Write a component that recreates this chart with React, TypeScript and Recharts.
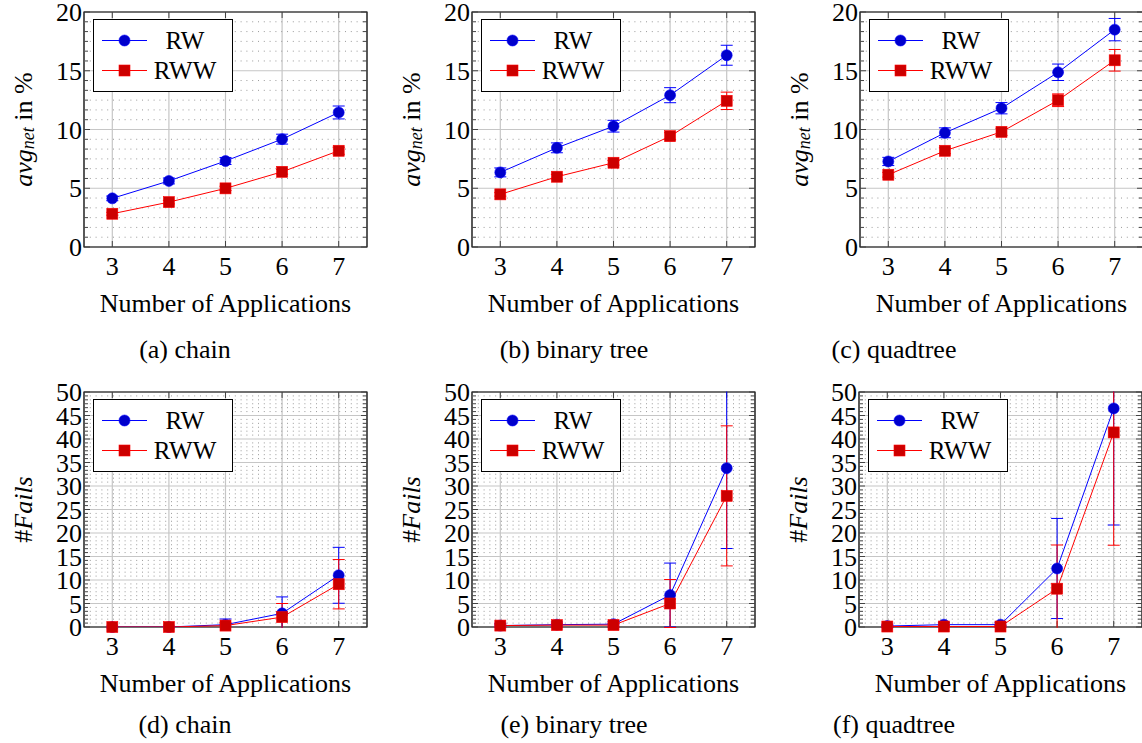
import React from 'react';
import {
  LineChart,
  Line,
  XAxis,
  YAxis,
  CartesianGrid,
  ReferenceLine,
  ReferenceArea,
  ErrorBar,
  Legend,
} from 'recharts';

// ---------- data ----------
const categories = [3, 4, 5, 6, 7];
const xTicks = [3, 4, 5, 6, 7];
const netTicks = [0, 5, 10, 15, 20];
const failTicks = [0, 5, 10, 15, 20, 25, 30, 35, 40, 45, 50];
const seriesNames = ['RW', 'RWW'];
const captions = ['(a) chain', '(b) binary tree', '(c) quadtree', '(d) chain', '(e) binary tree', '(f) quadtree'];

// (a) chain - avg_net
const chainNetRW = [4.14, 5.62, 7.32, 9.18, 11.45];
const chainNetRWErr = [0.2, 0.25, 0.3, 0.42, 0.55];
const chainNetRWW = [2.83, 3.82, 4.99, 6.4, 8.19];
const chainNetRWWErr = [0.12, 0.15, 0.18, 0.2, 0.3];
// (b) binary tree - avg_net
const binNetRW = [6.35, 8.44, 10.28, 12.92, 16.32];
const binNetRWErr = [0.38, 0.42, 0.5, 0.64, 0.85];
const binNetRWW = [4.48, 5.98, 7.17, 9.43, 12.44];
const binNetRWWErr = [0.15, 0.2, 0.2, 0.3, 0.74];
// (c) quadtree - avg_net
const quadNetRW = [7.28, 9.72, 11.81, 14.87, 18.5];
const quadNetRWErr = [0.35, 0.42, 0.48, 0.7, 0.95];
const quadNetRWW = [6.15, 8.19, 9.8, 12.49, 15.89];
const quadNetRWWErr = [0.2, 0.25, 0.3, 0.54, 0.92];
// (d) chain - #Fails
const chainFailRW = [0, 0, 0.5, 2.9, 11.0];
const chainFailRWErr = [0, 0, 1.2, 3.5, 5.95];
const chainFailRWW = [0, 0, 0.3, 2.1, 9.1];
const chainFailRWWErr = [0, 0, 0.6, 2.9, 5.25];
// (e) binary tree - #Fails
const binFailRW = [0.3, 0.5, 0.6, 6.8, 33.8];
const binFailRWErr = [0.5, 0.6, 0.6, 6.8, 17.1];
const binFailRWW = [0.3, 0.4, 0.4, 5.0, 27.9];
const binFailRWWErr = [0.3, 0.4, 0.4, 5.1, 14.9];
// (f) quadtree - #Fails
const quadFailRW = [0.2, 0.5, 0.5, 12.45, 46.5];
const quadFailRWErr = [0.4, 0.5, 0.5, 10.65, 24.8];
const quadFailRWW = [0.1, 0.1, 0.1, 8.15, 41.4];
const quadFailRWWErr = [0.2, 0.2, 0.2, 9.3, 24.0];

// ---------- styling constants ----------
const FONT = "'Liberation Serif', 'DejaVu Serif', serif";
const BLUE = '#0000ff';
const BLUE_FILL = '#0000cc';
const RED = '#ff0000';
const RED_FILL = '#cc0000';
const PLOT_W = 283;
const PLOT_H = 235;
const AXIS_W = 84;
const TOP_M = 12;
const RIGHT_M = 4;
const XAXIS_H = 70;
const CHART_W = AXIS_W + PLOT_W + RIGHT_M;
const CHART_H = TOP_M + PLOT_H + XAXIS_H;
const X_MIN = 2.5;
const X_MAX = 7.5;

const buildRows = (rw: number[], rwErr: number[], rww: number[], rwwErr: number[]) =>
  categories.map((x, i) => ({ x, rw: rw[i], rwErr: rwErr[i], rww: rww[i], rwwErr: rwwErr[i] }));

const minorValues = (majors: number[]) => {
  const out: number[] = [];
  for (let i = 0; i < majors.length - 1; i++) {
    const step = (majors[i + 1] - majors[i]) / 6;
    for (let k = 1; k <= 5; k++) out.push(majors[i] + k * step);
  }
  return out;
};

type PanelSpec = {
  left: number;
  top: number;
  kind: 'net' | 'fail';
  caption: string;
  captionX: number;
  captionY: number;
  rows: ReturnType<typeof buildRows>;
};

const panels: PanelSpec[] = [
  { left: 0, top: 0, kind: 'net', caption: captions[0], captionX: 185, captionY: 350, rows: buildRows(chainNetRW, chainNetRWErr, chainNetRWW, chainNetRWWErr) },
  { left: 388, top: 0, kind: 'net', caption: captions[1], captionX: 574, captionY: 350, rows: buildRows(binNetRW, binNetRWErr, binNetRWW, binNetRWWErr) },
  { left: 776, top: 0, kind: 'net', caption: captions[2], captionX: 894, captionY: 350, rows: buildRows(quadNetRW, quadNetRWErr, quadNetRWW, quadNetRWWErr) },
  { left: 0, top: 380, kind: 'fail', caption: captions[3], captionX: 185, captionY: 725, rows: buildRows(chainFailRW, chainFailRWErr, chainFailRWW, chainFailRWWErr) },
  { left: 388, top: 380, kind: 'fail', caption: captions[4], captionX: 574, captionY: 725, rows: buildRows(binFailRW, binFailRWErr, binFailRWW, binFailRWWErr) },
  { left: 775, top: 380, kind: 'fail', caption: captions[5], captionX: 894, captionY: 725, rows: buildRows(quadFailRW, quadFailRWErr, quadFailRWW, quadFailRWWErr) },
];

// ---------- small render helpers ----------
const circleDot = (p: any) => {
  if (p.cx == null || p.cy == null) return <g key={`c-${p.index}`} />;
  return <circle key={`c-${p.index}`} cx={p.cx} cy={p.cy} r={5.5} fill={BLUE_FILL} stroke={BLUE} strokeWidth={0.6} />;
};
const squareDot = (p: any) => {
  if (p.cx == null || p.cy == null) return <g key={`s-${p.index}`} />;
  return <rect key={`s-${p.index}`} x={p.cx - 5.5} y={p.cy - 5.5} width={11} height={11} fill={RED_FILL} stroke={RED} strokeWidth={0.6} />;
};

const LegendBox = () => (
  <svg width={141} height={74} style={{ display: 'block', overflow: 'visible' }}>
    <rect x={0.5} y={0.5} width={139} height={72} fill="#fff" stroke="#000" strokeWidth={1} />
    <line x1={9} y1={21.5} x2={54} y2={21.5} stroke={BLUE} strokeWidth={1} />
    <circle cx={31.5} cy={21.5} r={5.5} fill={BLUE_FILL} stroke={BLUE} strokeWidth={0.6} />
    <text x={92} y={30} textAnchor="middle" fontSize={25} fontFamily={FONT} fill="#000">{seriesNames[0]}</text>
    <line x1={9} y1={51.5} x2={54} y2={51.5} stroke={RED} strokeWidth={1} />
    <rect x={26} y={46} width={11} height={11} fill={RED_FILL} stroke={RED} strokeWidth={0.6} />
    <text x={92} y={60} textAnchor="middle" fontSize={25} fontFamily={FONT} fill="#000">{seriesNames[1]}</text>
  </svg>
);

const YLabel = (props: any) => {
  const vb = props.viewBox || { x: 0, y: TOP_M, width: AXIS_W, height: PLOT_H };
  const cx = vb.x + 23;
  const cy = vb.y + vb.height / 2;
  if (props.kind === 'net') {
    return (
      <text x={cx} y={cy} transform={`rotate(-90, ${cx}, ${cy})`} textAnchor="middle" dominantBaseline="central" fontSize={26} fontFamily={FONT} fill="#000">
        <tspan fontStyle="italic">avg</tspan>
        <tspan fontStyle="italic" fontSize={18} dy={5}>net</tspan>
        <tspan dy={-5}> in %</tspan>
      </text>
    );
  }
  return (
    <text x={cx} y={cy} transform={`rotate(-90, ${cx}, ${cy})`} textAnchor="middle" dominantBaseline="central" fontSize={26} fontFamily={FONT} fill="#000">
      <tspan>#</tspan>
      <tspan fontStyle="italic">Fails</tspan>
    </text>
  );
};

const XLabel = (props: any) => {
  const vb = props.viewBox || { x: AXIS_W, y: TOP_M + PLOT_H, width: PLOT_W, height: XAXIS_H };
  return (
    <text x={vb.x + vb.width / 2} y={vb.y + 65} textAnchor="middle" fontSize={26} fontFamily={FONT} fill="#000">
      Number of Applications
    </text>
  );
};

const Panel = ({ spec }: { spec: PanelSpec }) => {
  const yTicks = spec.kind === 'net' ? netTicks : failTicks;
  const yMax = yTicks[yTicks.length - 1];
  const minors = minorValues(yTicks);
  const xPerPx = (X_MAX - X_MIN) / PLOT_W;
  const yPerPx = yMax / PLOT_H;
  const minorLen = 4 * xPerPx;
  const majorLen = 6 * xPerPx;
  const majorLenY = 6 * yPerPx;
  const seg = (x1: number, y1: number, x2: number, y2: number) =>
    [{ x: x1, y: y1 }, { x: x2, y: y2 }] as any;

  return (
    <div style={{ position: 'absolute', left: spec.left, top: spec.top, width: CHART_W, height: CHART_H }}>
      <LineChart width={CHART_W} height={CHART_H} data={spec.rows} margin={{ top: TOP_M, right: RIGHT_M, bottom: 0, left: 0 }}>
        <CartesianGrid stroke="#c6c6c6" strokeWidth={1.2} />
        {minors.map((v) => (
          <ReferenceLine key={`mg-${v}`} y={v} stroke="#9a9a9a" strokeWidth={1} strokeDasharray="1 4.8" />
        ))}
        <XAxis
          dataKey="x"
          type="number"
          domain={[X_MIN, X_MAX]}
          ticks={xTicks}
          allowDataOverflow
          height={XAXIS_H}
          tickLine={false}
          axisLine={false}
          tickSize={0}
          tickMargin={10}
          tick={{ fontSize: 26, fill: '#000', fontFamily: FONT }}
          label={<XLabel />}
        />
        <YAxis
          type="number"
          domain={[0, yMax]}
          ticks={yTicks}
          allowDataOverflow
          width={AXIS_W}
          tickLine={false}
          axisLine={false}
          tickSize={0}
          tickMargin={2}
          interval={0}
          tick={{ fontSize: 26, fill: '#000', fontFamily: FONT }}
          label={<YLabel kind={spec.kind} />}
        />
        <YAxis yAxisId="marks" type="number" domain={[0, yMax]} hide />
        {minors.map((v) => (
          <ReferenceLine key={`tl-${v}`} segment={seg(X_MIN, v, X_MIN + minorLen, v)} stroke="#444" strokeWidth={1} />
        ))}
        {minors.map((v) => (
          <ReferenceLine key={`tr-${v}`} segment={seg(X_MAX - minorLen, v, X_MAX, v)} stroke="#444" strokeWidth={1} />
        ))}
        {yTicks.map((v) => (
          <ReferenceLine key={`Tl-${v}`} segment={seg(X_MIN, v, X_MIN + majorLen, v)} stroke="#444" strokeWidth={1} />
        ))}
        {yTicks.map((v) => (
          <ReferenceLine key={`Tr-${v}`} segment={seg(X_MAX - majorLen, v, X_MAX, v)} stroke="#444" strokeWidth={1} />
        ))}
        {xTicks.map((v) => (
          <ReferenceLine key={`Tb-${v}`} segment={seg(v, 0, v, majorLenY)} stroke="#444" strokeWidth={1} />
        ))}
        {xTicks.map((v) => (
          <ReferenceLine key={`Tt-${v}`} segment={seg(v, yMax - majorLenY, v, yMax)} stroke="#444" strokeWidth={1} />
        ))}
        <ReferenceArea x1={X_MIN} x2={X_MAX} y1={0} y2={yMax} fill="none" fillOpacity={0} stroke="#000" strokeWidth={1.2} />
        <Line dataKey="rw" name={seriesNames[0]} stroke={BLUE} strokeWidth={1} dot={false} activeDot={false} isAnimationActive={false}>
          <ErrorBar dataKey="rwErr" width={6} stroke={BLUE} strokeWidth={1} direction="y" isAnimationActive={false} />
        </Line>
        <Line dataKey="rww" name={seriesNames[1]} stroke={RED} strokeWidth={1} dot={false} activeDot={false} isAnimationActive={false}>
          <ErrorBar dataKey="rwwErr" width={6} stroke={RED} strokeWidth={1} direction="y" isAnimationActive={false} />
        </Line>
        <Line yAxisId="marks" dataKey="rw" stroke="none" legendType="none" dot={circleDot} activeDot={false} isAnimationActive={false} />
        <Line yAxisId="marks" dataKey="rww" stroke="none" legendType="none" dot={squareDot} activeDot={false} isAnimationActive={false} />
        <Legend
          layout="horizontal"
          verticalAlign="middle"
          align="center"
          content={() => <LegendBox />}
          wrapperStyle={{ left: AXIS_W + 9, top: TOP_M + 7, width: 141, height: 74 }}
        />
      </LineChart>
    </div>
  );
};

export default function App() {
  return (
    <div
      style={{
        position: 'absolute',
        left: 0,
        top: 0,
        width: 1142,
        height: 743,
        background: '#fff',
        overflow: 'hidden',
        fontFamily: FONT,
      }}
    >
      <style>{`.recharts-errorBars, .recharts-errorBar { clip-path: url(#plotAreaClip); }`}</style>
      <svg width={0} height={0} style={{ position: 'absolute', left: 0, top: 0 }} aria-hidden="true">
        <defs>
          <clipPath id="plotAreaClip" clipPathUnits="userSpaceOnUse">
            <rect x={AXIS_W - 1} y={TOP_M - 0.5} width={PLOT_W + 2} height={PLOT_H + 1.5} />
          </clipPath>
        </defs>
      </svg>
      {panels.map((p, i) => (
        <Panel key={i} spec={p} />
      ))}
      {panels.map((p, i) => (
        <div
          key={`cap-${i}`}
          style={{
            position: 'absolute',
            left: p.captionX - 150,
            top: p.captionY - 16,
            width: 300,
            textAlign: 'center',
            fontSize: 26,
            lineHeight: '32px',
            color: '#000',
            fontFamily: FONT,
          }}
        >
          {p.caption}
        </div>
      ))}
    </div>
  );
}
